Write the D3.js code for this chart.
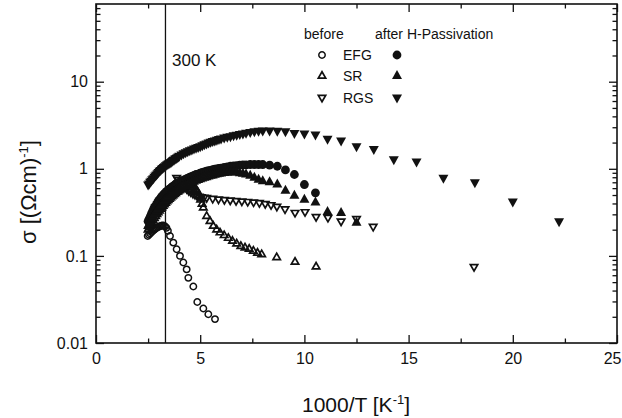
<!DOCTYPE html>
<html>
<head>
<meta charset="utf-8">
<script src="https://cdn.jsdelivr.net/npm/d3@7"></script>
<style>
  body { margin: 0; background: #fff; }
  text { font-family: "Liberation Sans", Arial, Helvetica, sans-serif; fill: #111; }
</style>
</head>
<body>
<svg id="chart" width="622" height="418"></svg>
<script>
// Conductivity vs inverse temperature, before / after hydrogen passivation
// Each point: [1000/T (K^-1), sigma ((Ohm cm)^-1)]

const xTickValues = [0, 5, 10, 15, 20, 25];
const xTickLabels = ["0", "5", "10", "15", "20", "25"];
const yTickValues = [0.01, 0.1, 1, 10];
const yTickLabels = ["0.01", "0.1", "1", "10"];
const roomTemperature = 300; // K

const efgBefore = [
  [2.48,0.169],[2.54,0.175],[2.6,0.181],[2.66,0.187],[2.72,0.193],[2.78,0.199],[2.84,0.204],
  [2.9,0.209],[2.96,0.213],[3.02,0.217],[3.08,0.22],[3.14,0.222],[3.2,0.223],[3.26,0.222],
  [3.32,0.218],[3.38,0.21],[3.45,0.194],[3.55,0.169],[3.71,0.142],[3.87,0.119],[4.03,0.1],
  [4.19,0.084],[4.35,0.07],[4.43,0.056],[4.67,0.0445],[4.86,0.0296],[5.15,0.0249],
  [5.39,0.0214],[5.71,0.0188]
];

const srBefore = [
  [2.5,0.2],[2.56,0.21],[2.62,0.225],[2.68,0.24],[2.74,0.255],[2.8,0.27],[2.86,0.285],
  [2.92,0.3],[2.98,0.315],[3.04,0.33],[3.1,0.345],[3.16,0.36],[3.22,0.375],[3.28,0.39],
  [3.34,0.405],[3.4,0.42],[3.46,0.435],[3.52,0.45],[3.58,0.465],[3.64,0.48],[3.7,0.495],
  [3.76,0.51],[3.82,0.525],[3.88,0.54],[3.94,0.55],[4.0,0.565],[4.08,0.58],[4.16,0.595],
  [4.24,0.605],[4.32,0.615],[4.4,0.625],[4.48,0.63],[4.56,0.635],[4.64,0.63],[4.72,0.615],
  [4.8,0.585],[4.88,0.54],[4.95,0.49],[5.02,0.44],[5.09,0.395],[5.15,0.357],[5.31,0.286],
  [5.47,0.25],[5.63,0.22],[5.79,0.2],[5.95,0.185],[6.15,0.172],[6.35,0.16],[6.55,0.148],
  [6.75,0.138],[6.95,0.129],[7.15,0.124],[7.35,0.12],[7.55,0.114],[7.75,0.108],
  [7.95,0.104],[8.67,0.096],[9.55,0.085],[10.56,0.075]
];

const rgsBefore = [
  [3.87,0.79],[3.95,0.75],[4.05,0.7],[4.15,0.66],[4.25,0.62],
  [4.35,0.59],[4.45,0.56],[4.55,0.54],[4.65,0.52],[4.75,0.505],[4.85,0.49],[4.95,0.48],
  [5.05,0.475],[5.18,0.47],[5.31,0.466],[5.6,0.455],[5.88,0.448],[6.16,0.442],[6.44,0.436],
  [6.72,0.43],[7.0,0.425],[7.28,0.42],[7.56,0.414],[7.84,0.407],[8.12,0.397],[8.4,0.385],
  [8.68,0.37],[9.07,0.345],[9.55,0.314],[10.03,0.32],[10.56,0.282],[11.13,0.275],
  [11.76,0.25],[12.5,0.267],[13.3,0.217],[18.14,0.075]
];

const efgAfter = [
  [2.5,0.25],[2.55,0.265],[2.6,0.28],[2.65,0.3],[2.7,0.32],[2.75,0.34],[2.8,0.36],
  [2.85,0.37],[2.9,0.39],[2.95,0.41],[3.0,0.43],[3.05,0.44],[3.1,0.46],[3.15,0.48],
  [3.2,0.49],[3.25,0.51],[3.3,0.52],[3.35,0.54],[3.4,0.55],[3.45,0.56],[3.5,0.58],
  [3.55,0.59],[3.6,0.6],[3.65,0.62],[3.7,0.63],[3.75,0.64],[3.8,0.66],[3.85,0.67],
  [3.9,0.68],[3.95,0.69],[4.0,0.7],[4.1,0.72],[4.2,0.74],[4.3,0.76],[4.4,0.78],[4.5,0.8],
  [4.6,0.82],[4.7,0.84],[4.8,0.86],[4.9,0.87],[5.0,0.89],[5.1,0.91],[5.2,0.92],[5.3,0.94],
  [5.4,0.95],[5.5,0.96],[5.6,0.98],[5.7,0.99],[5.8,1.0],[5.9,1.01],[6.0,1.02],[6.15,1.04],
  [6.3,1.05],[6.45,1.07],[6.6,1.08],[6.75,1.09],[6.9,1.1],[7.05,1.11],[7.2,1.11],[7.4,1.12],
  [7.6,1.12],[7.8,1.12],[8.0,1.12],[8.33,1.1],[8.7,1.07],[9.09,0.97],[9.52,0.86],
  [10.0,0.66],[10.53,0.53]
];

const srAfter = [
  [2.5,0.22],[2.55,0.23],[2.6,0.245],[2.65,0.26],[2.7,0.27],[2.75,0.285],[2.8,0.3],
  [2.85,0.31],[2.9,0.325],[2.95,0.34],[3.0,0.355],[3.05,0.37],[3.1,0.38],[3.15,0.395],
  [3.2,0.41],[3.25,0.42],[3.3,0.435],[3.35,0.45],[3.4,0.46],[3.45,0.47],[3.5,0.485],
  [3.55,0.5],[3.6,0.51],[3.65,0.52],[3.7,0.53],[3.75,0.54],[3.8,0.55],[3.85,0.56],
  [3.9,0.57],[3.95,0.58],[4.0,0.59],[4.1,0.61],[4.2,0.63],[4.3,0.645],[4.4,0.66],[4.5,0.68],
  [4.6,0.7],[4.7,0.71],[4.8,0.73],[4.9,0.745],[5.0,0.76],[5.1,0.775],[5.2,0.79],[5.3,0.8],
  [5.4,0.815],[5.5,0.83],[5.6,0.84],[5.7,0.855],[5.8,0.865],[5.9,0.875],[6.0,0.885],
  [6.15,0.895],[6.3,0.9],[6.45,0.91],[6.6,0.91],[6.75,0.905],[6.9,0.89],[7.05,0.88],
  [7.2,0.86],[7.4,0.83],[7.6,0.79],[7.8,0.75],[8.0,0.72],[8.33,0.7],[8.7,0.66],[9.09,0.56],
  [9.52,0.49],[10.0,0.44],[10.53,0.41],[11.11,0.32],[11.76,0.31],[12.5,0.24]
];

const rgsAfter = [
  [2.5,0.66],[2.55,0.68],[2.6,0.71],[2.65,0.73],[2.7,0.76],[2.75,0.78],[2.8,0.81],
  [2.85,0.84],[2.9,0.86],[2.95,0.89],[3.0,0.92],[3.05,0.95],[3.1,0.97],[3.15,1.0],
  [3.2,1.02],[3.25,1.05],[3.3,1.07],[3.35,1.1],[3.4,1.12],[3.45,1.14],[3.5,1.16],
  [3.55,1.18],[3.6,1.2],[3.65,1.23],[3.7,1.26],[3.75,1.28],[3.8,1.31],[3.85,1.33],
  [3.9,1.36],[3.95,1.38],[4.0,1.41],[4.1,1.46],[4.2,1.51],[4.3,1.55],[4.4,1.59],[4.5,1.63],
  [4.6,1.67],[4.7,1.71],[4.8,1.75],[4.9,1.78],[5.0,1.82],[5.1,1.86],[5.2,1.91],[5.3,1.95],
  [5.4,2.0],[5.5,2.04],[5.6,2.08],[5.7,2.12],[5.8,2.16],[5.9,2.2],[6.0,2.23],[6.15,2.28],
  [6.3,2.33],[6.45,2.37],[6.6,2.42],[6.75,2.46],[6.9,2.51],[7.05,2.55],[7.2,2.59],
  [7.4,2.65],[7.6,2.7],[7.8,2.73],[8.0,2.75],[8.33,2.76],[8.7,2.74],[9.09,2.7],[9.52,2.58],
  [10.0,2.54],[10.53,2.47],[11.11,2.21],[11.76,2.11],[12.5,1.82],[13.33,1.69],[14.29,1.29],
  [15.38,1.21],[16.67,0.79],[18.18,0.7],[20.0,0.42],[22.22,0.25]
];

const legendSamples = ["EFG", "SR", "RGS"];

// ---- layout ----
const svg = d3.select("#chart");
const x = d3.scaleLinear().domain([0, 25]).range([96, 617]);
const y = d3.scaleLog().domain([0.01, 78]).range([343, 4]);

const xMinor = [2.5, 7.5, 12.5, 17.5, 22.5];
const yMinor = [];
[0.01, 0.1, 1, 10].forEach(d => { for (let k = 2; k <= 9; k++) { const v = d * k; if (v < 78) yMinor.push(v); } });

function styleAxis(g) {
  g.select(".domain").remove();
  g.selectAll(".tick line").attr("stroke", "#111").attr("stroke-width", 1.3);
  g.selectAll(".tick text").attr("fill", "#111")
    .style("font-family", '"Liberation Sans", Arial, sans-serif').style("font-size", "16px");
}

// major + minor ticks on all four sides, pointing inwards
const xAxisG = svg.append("g").attr("transform", "translate(0,343)")
  .call(d3.axisBottom(x).tickValues(xTickValues).tickFormat((d, i) => xTickLabels[i]).tickSize(-8).tickPadding(10))
  .call(styleAxis);
// last label sits at the window edge: anchor it at its right end
xAxisG.selectAll(".tick text").filter(d => d === 25).attr("text-anchor", "end").attr("x", 4);

svg.append("g").attr("transform", "translate(0,343)")
  .call(d3.axisBottom(x).tickValues(xMinor).tickFormat("").tickSize(-4.5)).call(styleAxis);
svg.append("g").attr("transform", "translate(0,4)")
  .call(d3.axisTop(x).tickValues(xTickValues).tickFormat("").tickSize(-8)).call(styleAxis);
svg.append("g").attr("transform", "translate(0,4)")
  .call(d3.axisTop(x).tickValues(xMinor).tickFormat("").tickSize(-4.5)).call(styleAxis);

svg.append("g").attr("transform", "translate(96,0)")
  .call(d3.axisLeft(y).tickValues(yTickValues).tickFormat((d, i) => yTickLabels[i]).tickSize(-8).tickPadding(8))
  .call(styleAxis);
svg.append("g").attr("transform", "translate(96,0)")
  .call(d3.axisLeft(y).tickValues(yMinor).tickFormat("").tickSize(-4.5)).call(styleAxis);
svg.append("g").attr("transform", "translate(617,0)")
  .call(d3.axisRight(y).tickValues(yTickValues).tickFormat("").tickSize(-8)).call(styleAxis);
svg.append("g").attr("transform", "translate(617,0)")
  .call(d3.axisRight(y).tickValues(yMinor).tickFormat("").tickSize(-4.5)).call(styleAxis);

// frame
svg.append("rect")
  .attr("x", x(0)).attr("y", y(78))
  .attr("width", x(25) - x(0)).attr("height", y(0.01) - y(78))
  .attr("fill", "none").attr("stroke", "#111").attr("stroke-width", 1.6);

// 300 K marker line
svg.append("line")
  .attr("x1", x(1000 / roomTemperature)).attr("x2", x(1000 / roomTemperature))
  .attr("y1", y(78)).attr("y2", y(0.01))
  .attr("stroke", "#111").attr("stroke-width", 1.3);
svg.append("text").attr("x", 172).attr("y", 66).style("font-size", "17px").text(roomTemperature + " K");

// ---- marker shapes ----
function triPath(w, h, down) {
  const s = down ? -1 : 1;
  return `M0,${-s * h * 2 / 3}L${w / 2},${s * h / 3}L${-w / 2},${s * h / 3}Z`;
}
const shapes = {
  circleOpen: g => g.append("circle").attr("r", 3.2).attr("fill", "none").attr("stroke", "#111").attr("stroke-width", 1.5),
  circleFill: g => g.append("circle").attr("r", 4.4).attr("fill", "#111"),
  upOpen:     g => g.append("path").attr("d", triPath(7.4, 6.4, false)).attr("fill", "none").attr("stroke", "#111").attr("stroke-width", 1.7),
  upFill:     g => g.append("path").attr("d", triPath(10, 9, false)).attr("fill", "#111"),
  downOpen:   g => g.append("path").attr("d", triPath(7.4, 6.4, true)).attr("fill", "none").attr("stroke", "#111").attr("stroke-width", 1.7),
  downFill:   g => g.append("path").attr("d", triPath(10, 9, true)).attr("fill", "#111")
};

function drawSeries(data, shape) {
  const g = svg.append("g");
  data.forEach(d => {
    const m = g.append("g").attr("transform", `translate(${x(d[0])},${y(d[1])})`);
    shapes[shape](m);
  });
}

drawSeries(efgBefore, "circleOpen");
drawSeries(srBefore, "upOpen");
drawSeries(rgsBefore, "downOpen");
drawSeries(efgAfter, "circleFill");
drawSeries(srAfter, "upFill");
drawSeries(rgsAfter, "downFill");

// ---- legend ----
const lg = svg.append("g");
lg.append("text").attr("x", 304).attr("y", 39).style("font-size", "14px").text("before");
lg.append("text").attr("x", 375).attr("y", 39).style("font-size", "14px").text("after H-Passivation");
const openShapes = ["circleOpen", "upOpen", "downOpen"];
const fillShapes = ["circleFill", "upFill", "downFill"];
const rowY = [55, 76, 97.5];
legendSamples.forEach((name, i) => {
  shapes[openShapes[i]](lg.append("g").attr("transform", `translate(322,${rowY[i]})`));
  shapes[fillShapes[i]](lg.append("g").attr("transform", `translate(397,${rowY[i]})`));
  lg.append("text").attr("x", 343).attr("y", rowY[i] + 5).style("font-size", "14px").text(name);
});

// ---- axis titles ----
const xt = svg.append("text").attr("x", 356).attr("y", 412).attr("text-anchor", "middle").style("font-size", "21px");
xt.append("tspan").text("1000/T [K");
xt.append("tspan").attr("dy", -8).style("font-size", "13px").text("-1");
xt.append("tspan").attr("dy", 8).text("]");

const yt = svg.append("text").attr("transform", "translate(36,192) rotate(-90)").attr("text-anchor", "middle").style("font-size", "22px");
yt.append("tspan").text("σ [(Ωcm)");
yt.append("tspan").attr("dy", -8).style("font-size", "13px").text("-1");
yt.append("tspan").attr("dy", 8).text("]");
</script>
</body>
</html>
